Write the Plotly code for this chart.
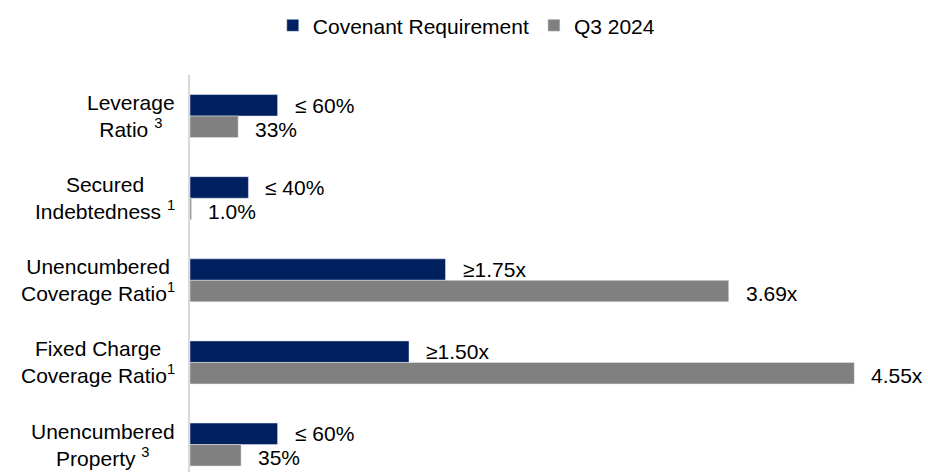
import plotly.graph_objs as go

# category keys and their displayed labels (superscripts are footnote refs)
categories = ['Leverage Ratio', 'Secured Indebtedness', 'Unencumbered Coverage Ratio',
              'Fixed Charge Coverage Ratio', 'Unencumbered Property']
category_labels = ['Leverage<br>Ratio <sup>3</sup>',
                   'Secured<br>Indebtedness <sup>1</sup>',
                   'Unencumbered<br>Coverage Ratio<sup>1</sup>',
                   'Fixed Charge<br>Coverage Ratio<sup>1</sup>',
                   'Unencumbered<br>Property <sup>3</sup>']

covenant_values = [0.60, 0.40, 1.75, 1.50, 0.60]
covenant_text = ['≤ 60%', '≤ 40%', '≥1.75x', '≥1.50x', '≤ 60%']

q3_values = [0.33, 0.01, 3.69, 4.55, 0.35]
q3_text = ['33%', '1.0%', '3.69x', '4.55x', '35%']

NAVY = '#002060'
GRAY = '#808080'
FONT = 'Arial, Liberation Sans, sans-serif'
FS = 21

fig = go.Figure()
fig.add_trace(go.Bar(name='Covenant Requirement', y=categories, x=covenant_values,
                     orientation='h', marker_color=NAVY))
fig.add_trace(go.Bar(name='Q3 2024', y=categories, x=q3_values,
                     orientation='h', marker_color=GRAY))

annotations = []
# value labels, offset from the end of each bar
for cat, val, txt in zip(categories, covenant_values, covenant_text):
    annotations.append(dict(x=val, y=cat, text=txt, showarrow=False, xanchor='left',
                            xshift=15, yshift=11, font=dict(size=FS, color='black')))
for cat, val, txt in zip(categories, q3_values, q3_text):
    annotations.append(dict(x=val, y=cat, text=txt, showarrow=False, xanchor='left',
                            xshift=15, yshift=-13, font=dict(size=FS, color='black')))
# category labels, centred lines like the original text boxes
for cat, lab in zip(categories, category_labels):
    annotations.append(dict(x=0, xref='paper', y=cat, text=lab, showarrow=False,
                            xanchor='right', align='center', xshift=-13,
                            font=dict(size=FS, color='black')))

fig.update_layout(
    width=928, height=472,
    margin=dict(l=190, r=8, t=75, b=0),
    plot_bgcolor='white', paper_bgcolor='white',
    font=dict(family=FONT, size=FS, color='black'),
    barmode='group', bargap=0.476, bargroupgap=0,
    xaxis=dict(range=[0, 5], showgrid=False, zeroline=False, showticklabels=False,
               showline=False),
    yaxis=dict(categoryorder='array', categoryarray=categories, range=[4.334, -0.5],
               showgrid=False, showticklabels=False, showline=True,
               linecolor='#d9d9d9', linewidth=2, ticks=''),
    legend=dict(orientation='h', xref='container', x=0.503, xanchor='center',
                yref='container', y=0.989, yanchor='top', itemwidth=30,
                font=dict(size=FS), traceorder='normal'),
    annotations=annotations,
)

# drop the default 8px body margin so the figure fills the window exactly
fig.write_html('out.html', config={'displayModeBar': False},
               post_script="document.body.style.margin = '0';")
